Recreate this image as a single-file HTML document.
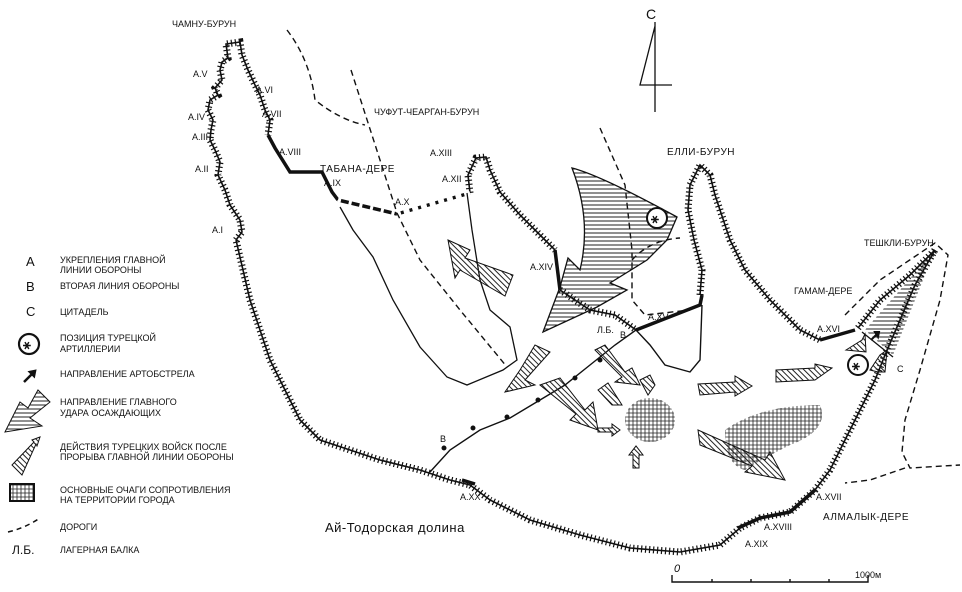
<!DOCTYPE html>
<html><head><meta charset="utf-8"><style>
html,body{margin:0;padding:0;background:#fff}
svg{display:block}
text{font-family:"Liberation Sans",sans-serif;fill:#111}
.l{font-size:10px;letter-spacing:0.5px}
.s{font-size:9px}
.m{font-size:13px;letter-spacing:0.5px}
</style></head><body>
<svg width="962" height="592" viewBox="0 0 962 592" xmlns="http://www.w3.org/2000/svg">
<defs>
<pattern id="h" width="4" height="4" patternUnits="userSpaceOnUse"><path d="M0 1H4" stroke="#222" stroke-width="1"/></pattern>
<pattern id="d" width="4" height="4" patternUnits="userSpaceOnUse" patternTransform="rotate(45)"><path d="M0 1H4" stroke="#222" stroke-width="1"/></pattern>
<pattern id="x" width="4" height="4" patternUnits="userSpaceOnUse"><path d="M0 1H4M1 0V4" stroke="#222" stroke-width="0.8"/></pattern>
</defs>
<g fill="none" stroke="#111">
<path d="M236 240 L242 232 240 220 230 205 225 190 218 175 220 162 215 150 210 140 211 130 213 120 208 110 210 100 218 95 215 88 222 80 220 70 222 62 228 58 226 44 240 42 242 55 248 70 255 85 260 95 265 110 270 120 268 135 M470 193 L468 175 476 158 486 157 490 170 500 192 520 215 545 240 555 250 M560 290 L590 310 615 315 636 330 M700 295 L702 270 694 240 688 210 690 185 700 165 710 175 715 195 730 240 745 270 770 300 800 330 820 340 M858 328 L880 300 910 275 935 250 M935 250 L915 285 900 320 885 355 875 380 860 410 845 440 830 470 815 490 790 512 760 518 740 528 720 545 680 552 630 548 580 535 530 520 490 500 470 485 450 480 420 470 380 460 350 450 320 440 300 420 285 390 270 360 250 300 236 240" stroke-width="1.6"/>
<path d="M236 240 L242 232 240 220 230 205 225 190 218 175 220 162 215 150 210 140 211 130 213 120 208 110 210 100 218 95 215 88 222 80 220 70 222 62 228 58 226 44 240 42 242 55 248 70 255 85 260 95 265 110 270 120 268 135 M470 193 L468 175 476 158 486 157 490 170 500 192 520 215 545 240 555 250 M560 290 L590 310 615 315 636 330 M700 295 L702 270 694 240 688 210 690 185 700 165 710 175 715 195 730 240 745 270 770 300 800 330 820 340 M858 328 L880 300 910 275 935 250 M935 250 L915 285 900 320 885 355 875 380 860 410 845 440 830 470 815 490 790 512 760 518 740 528 720 545 680 552 630 548 580 535 530 520 490 500 470 485 450 480 420 470 380 460 350 450 320 440 300 420 285 390 270 360 250 300 236 240" stroke-width="7" stroke-dasharray="1.2 2.8"/>
<path d="M268 135 L275 148 290 172 322 172 332 192 338 200 M338 200 L397 214 M397 214 L470 193 M555 250 L560 290 M636 330 L700 305 702 295 M820 340 L855 330 M738 528 L760 518 790 512 815 490 M462 480 L475 484" stroke-width="3.5"/>
<path d="M397 214 L470 193" stroke="#fff" stroke-width="4" stroke-dasharray="6 3" stroke-dashoffset="2"/>
<path d="M338 200 L397 214" stroke="#fff" stroke-width="4" stroke-dasharray="3 8"/>
<path d="M430 472 L450 450 480 430 510 418 540 400 565 385 590 365 615 345 636 330 L650 345 665 365 690 372 700 360 702 305" stroke-width="1.4"/>
<g fill="#111"><circle cx="444" cy="448" r="2"/><circle cx="473" cy="428" r="2"/><circle cx="507" cy="417" r="2"/><circle cx="538" cy="400" r="2"/><circle cx="575" cy="378" r="2"/><circle cx="600" cy="360" r="2"/></g>
<path d="M340 207 L353 230 373 257 393 300 420 347 447 377 467 385 503 370 517 360 510 327 490 310 480 280 472 230 467 193" stroke-width="1.3"/>
<g stroke-dasharray="6 4" stroke-width="1.4">
<path d="M287 30 Q310 60 315 100 Q340 120 365 125 M351 70 L380 160 397 213 420 260 460 310 507 367"/>
<path d="M600 128 L625 185 632 250 632 300 645 315 690 310 M632 260 Q650 240 680 238"/>
<path d="M845 315 L880 280 935 243 948 255 940 300 920 370 905 420 902 452 910 468 960 465 M905 468 L870 480 845 483"/>
</g>
<path d="M655 22 L655 112 M655 26 L640 85 L672 85" stroke-width="1.3"/>
<path d="M672 575 V582 H868 V575 M712 579V582M751 579V582M790 579V582M829 579V582" stroke-width="1.4"/>
</g>
<text x="646" y="19" style="font-size:14px">C</text>
<path d="M572 168 Q600 175 677 217 L667 240 647 260 610 283 627 290 597 307 543 332 560 287 568 258 580 270 Q592 220 572 168Z" fill="url(#h)" stroke="#111" stroke-width="1.3"/>
<circle cx="657" cy="218" r="10" fill="#fff" stroke="#111" stroke-width="2"/><text x="651" y="223" style="font-size:13px;font-weight:bold">⚹</text>
<circle cx="858" cy="365" r="10" fill="#fff" stroke="#111" stroke-width="2"/><text x="852" y="370" style="font-size:13px;font-weight:bold">⚹</text>
<path d="M935 250 L865 330 L893 355 Z" fill="url(#h)" stroke="none"/>
<path d="M862 332 L893 357" stroke="#111" stroke-width="1.3"/>
<g fill="url(#d)" stroke="#111" stroke-width="1">
<path d="M448 240 L470 250 465 258 513 275 505 296 460 270 455 278Z"/>
<path d="M520 370 L535 345 550 352 525 380 535 385 505 392Z"/>
<path d="M540 385 L560 378 585 410 593 402 598 430 570 420 576 414Z"/>
<path d="M595 350 L605 345 625 372 632 368 640 385 615 382 622 377Z"/>
<path d="M598 390 L608 383 622 405 612 405Z"/>
<path d="M640 380 L650 375 655 385 648 395Z"/>
<path d="M698 384 L735 382 735 376 752 386 735 396 735 392 700 395Z"/>
<path d="M776 370 L815 368 815 364 832 368 815 380 776 382Z"/>
<path d="M698 430 L765 460 770 452 785 480 745 472 752 466 700 445Z"/>
<path d="M598 428 L612 428 612 424 620 430 612 436 612 432 598 432Z"/>
<path d="M633 468 L633 455 629 455 636 446 643 455 639 455 639 468Z"/>
<path d="M846 350 L862 340 865 334 866 352 Z"/>
<path d="M870 370 L880 355 887 350 885 372 878 372 Z"/>
</g>
<path d="M871 340 L878 333 M875 332 L879 332 878 337Z" stroke="#111" stroke-width="2"/>
<ellipse cx="650" cy="420" rx="25" ry="22" fill="url(#x)"/>
<path d="M725 430 Q760 405 820 405 Q830 430 790 445 Q760 460 745 470 Q725 465 725 430Z" fill="url(#x)"/>
<text x="26" y="266" style="font-size:13px">A</text>
<text x="60" y="263" class="s">УКРЕПЛЕНИЯ ГЛАВНОЙ</text><text x="60" y="273" class="s">ЛИНИИ ОБОРОНЫ</text>
<text x="26" y="291" style="font-size:13px">B</text><text x="60" y="289" class="s">ВТОРАЯ ЛИНИЯ ОБОРОНЫ</text>
<text x="26" y="316" style="font-size:13px">C</text><text x="60" y="315" class="s">ЦИТАДЕЛЬ</text>
<circle cx="29" cy="344" r="10" fill="#fff" stroke="#111" stroke-width="2.2"/><text x="23" y="349" style="font-size:13px;font-weight:bold">⚹</text>
<text x="60" y="341" class="s">ПОЗИЦИЯ ТУРЕЦКОЙ</text><text x="60" y="352" class="s">АРТИЛЛЕРИИ</text>
<path d="M24 382 L33 373 M30 372 L35 371 34 376Z" stroke="#111" stroke-width="2.5"/><text x="60" y="377" class="s">НАПРАВЛЕНИЕ АРТОБСТРЕЛА</text>
<path d="M38 390 L50 402 30 418 42 426 5 432 20 402 28 408 Z" fill="url(#h)" stroke="#111"/>
<text x="60" y="405" class="s">НАПРАВЛЕНИЕ ГЛАВНОГО</text><text x="60" y="416" class="s">УДАРА ОСАЖДАЮЩИХ</text>
<path d="M12 465 L34 442 32 440 40 437 37 446 36 444 22 475Z" fill="url(#d)" stroke="#111"/>
<text x="60" y="450" class="s">ДЕЙСТВИЯ ТУРЕЦКИХ ВОЙСК ПОСЛЕ</text><text x="60" y="460" class="s">ПРОРЫВА ГЛАВНОЙ ЛИНИИ ОБОРОНЫ</text>
<rect x="10" y="484" width="24" height="17" fill="url(#x)" stroke="#111" stroke-width="2"/>
<text x="60" y="493" class="s">ОСНОВНЫЕ ОЧАГИ СОПРОТИВЛЕНИЯ</text><text x="60" y="503" class="s">НА ТЕРРИТОРИИ ГОРОДА</text>
<path d="M8 532 Q25 528 40 518" fill="none" stroke="#111" stroke-width="1.5" stroke-dasharray="5 4"/><text x="60" y="530" class="s">ДОРОГИ</text>
<text x="12" y="554" style="font-size:12px">Л.Б.</text><text x="60" y="553" class="s">ЛАГЕРНАЯ БАЛКА</text>
<text x="172" y="27" class="s">ЧАМНУ-БУРУН</text>
<text x="374" y="115" class="s">ЧУФУТ-ЧЕАРГАН-БУРУН</text>
<text x="320" y="172" class="l">ТАБАНА-ДЕРЕ</text>
<text x="667" y="155" class="l">ЕЛЛИ-БУРУН</text>
<text x="864" y="246" class="s">ТЕШКЛИ-БУРУН</text>
<text x="794" y="294" class="s">ГАМАМ-ДЕРЕ</text>
<text x="823" y="520" class="l">АЛМАЛЫК-ДЕРЕ</text>
<text x="325" y="532" class="m">Ай-Тодорская долина</text>
<g class="s" style="font-size:9px">
<text x="193" y="77">A.V</text><text x="256" y="93">A.VI</text><text x="262" y="117">A.VII</text>
<text x="188" y="120">A.IV</text><text x="192" y="140">A.III</text><text x="195" y="172">A.II</text>
<text x="212" y="233">A.I</text><text x="279" y="155">A.VIII</text><text x="324" y="186">A.IX</text>
<text x="395" y="205">A.X</text><text x="430" y="156">A.XIII</text><text x="442" y="182">A.XII</text>
<text x="530" y="270">A.XIV</text><text x="648" y="320">A.XV</text><text x="597" y="333">Л.Б.</text>
<text x="620" y="338">B</text><text x="440" y="442">B</text><text x="817" y="332">A.XVI</text>
<text x="897" y="372">C</text><text x="816" y="500">A.XVII</text><text x="764" y="530">A.XVIII</text>
<text x="745" y="547">A.XIX</text><text x="460" y="500">A.XX</text>
</g>
<text x="674" y="572" style="font-size:11px;font-style:italic">0</text>
<text x="855" y="578" class="s">1000м</text>
</svg>
</body></html>
